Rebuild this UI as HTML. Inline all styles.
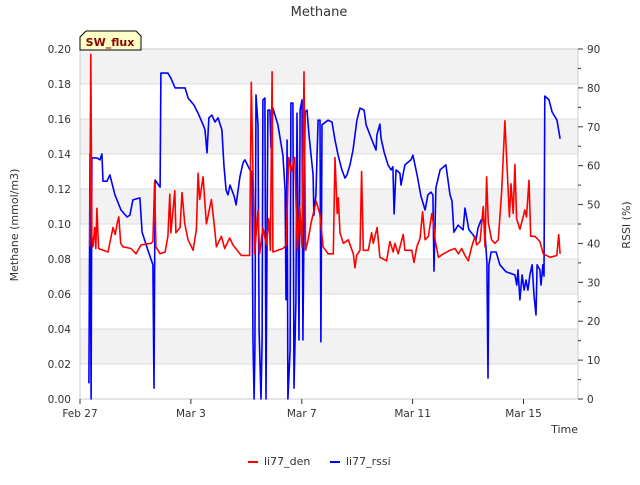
<!DOCTYPE html>
<html><head><meta charset="utf-8"><style>
body{margin:0;background:#fff;font-family:"Liberation Sans","DejaVu Sans",sans-serif}
svg text{font-family:"DejaVu Sans","Liberation Sans",sans-serif}
</style></head><body>
<svg id="c" width="640" height="480" viewBox="0 0 640 480" xmlns="http://www.w3.org/2000/svg">
<text x="319" y="16" text-anchor="middle" font-size="13" fill="#333">Methane</text>
<g id="bands"></g><g id="axes"></g><g id="series"></g>
<text transform="translate(18,225) rotate(-90)" text-anchor="middle" font-size="11" fill="#333">Methane (mmol/m3)</text>
<text transform="translate(630,225) rotate(-90)" text-anchor="middle" font-size="11" fill="#333">RSSI (%)</text>
<text x="578" y="433" text-anchor="end" font-size="11" fill="#333">Time</text>
<g><line x1="248" y1="462" x2="258" y2="462" stroke="#f00" stroke-width="2"/><text x="264" y="465" font-size="11" fill="#333">li77_den</text></g>
<g><line x1="330" y1="462" x2="340" y2="462" stroke="#00f" stroke-width="2"/><text x="346" y="465" font-size="11" fill="#333">li77_rssi</text></g>
<g><path d="M86,31 H136 L141,36 V50 H80 V37 Z" fill="#ffffc8" stroke="#000" stroke-width="1"/><text x="110" y="46" text-anchor="middle" font-size="11" font-weight="bold" fill="#8b0000">SW_flux</text></g>
</svg>
<script>
const xTickLabels=["Feb 27","Mar 3","Mar 7","Mar 11","Mar 15"];
const xTickDays=[0,4,8,12,16];
const yTicks=[0,0.02,0.04,0.06,0.08,0.10,0.12,0.14,0.16,0.18,0.20];
const y2Ticks=[0,10,20,30,40,50,60,70,80,90];
const denDays=[0.35,0.39,0.43,0.47,0.53,0.57,0.61,0.67,1.01,1.19,1.27,1.35,1.40,1.47,1.55,1.84,2.02,2.20,2.56,2.63,2.69,2.74,2.89,3.07,3.17,3.24,3.28,3.42,3.46,3.61,3.68,3.78,3.90,4.08,4.20,4.26,4.32,4.44,4.56,4.74,4.86,4.92,5.10,5.22,5.40,5.52,5.82,6.12,6.18,6.24,6.30,6.42,6.48,6.60,6.72,6.81,6.87,6.93,6.96,7.14,7.32,7.44,7.53,7.62,7.75,7.84,7.93,8.01,8.08,8.14,8.23,8.34,8.52,8.65,8.77,8.95,9.14,9.20,9.28,9.32,9.38,9.50,9.68,9.86,9.92,9.98,10.10,10.16,10.22,10.40,10.52,10.58,10.72,10.82,11.06,11.18,11.30,11.36,11.48,11.66,11.72,11.97,12.05,12.15,12.27,12.36,12.45,12.57,12.69,12.77,12.81,12.93,13.11,13.35,13.53,13.65,13.77,13.89,14.01,14.13,14.25,14.31,14.43,14.55,14.61,14.67,14.73,14.85,14.97,15.09,15.21,15.33,15.39,15.49,15.55,15.63,15.69,15.75,15.87,16.05,16.11,16.20,16.26,16.41,16.59,16.71,16.96,17.20,17.27,17.32];
const denValues=[0.087,0.197,0.093,0.087,0.098,0.086,0.109,0.086,0.084,0.098,0.094,0.101,0.104,0.089,0.087,0.086,0.083,0.088,0.089,0.090,0.124,0.087,0.083,0.084,0.093,0.117,0.095,0.119,0.095,0.098,0.118,0.100,0.091,0.085,0.097,0.129,0.114,0.127,0.100,0.114,0.097,0.087,0.093,0.086,0.092,0.088,0.082,0.082,0.181,0.129,0.083,0.108,0.083,0.098,0.088,0.103,0.085,0.187,0.084,0.085,0.086,0.088,0.138,0.130,0.138,0.085,0.110,0.087,0.187,0.085,0.091,0.101,0.113,0.106,0.087,0.083,0.083,0.138,0.106,0.115,0.095,0.089,0.091,0.083,0.075,0.082,0.085,0.130,0.085,0.085,0.095,0.089,0.098,0.081,0.079,0.090,0.084,0.089,0.083,0.094,0.085,0.085,0.078,0.087,0.092,0.107,0.091,0.093,0.106,0.098,0.091,0.081,0.083,0.085,0.086,0.083,0.086,0.082,0.079,0.087,0.093,0.088,0.090,0.110,0.087,0.127,0.101,0.091,0.089,0.091,0.118,0.159,0.138,0.104,0.123,0.106,0.134,0.103,0.097,0.108,0.104,0.125,0.093,0.093,0.090,0.083,0.081,0.082,0.094,0.083];
const rssiDays=[0.32,0.36,0.40,0.43,0.61,0.72,0.79,0.83,0.97,1.08,1.26,1.48,1.70,1.80,1.91,2.16,2.24,2.45,2.63,2.67,2.71,2.89,2.92,3.17,3.28,3.43,3.79,3.90,4.11,4.26,4.44,4.51,4.58,4.65,4.76,4.87,4.98,5.12,5.19,5.27,5.34,5.41,5.56,5.63,5.77,5.88,5.95,6.13,6.20,6.24,6.28,6.31,6.35,6.42,6.46,6.53,6.57,6.60,6.67,6.71,6.78,6.85,6.89,6.96,7.14,7.32,7.40,7.43,7.47,7.50,7.58,7.61,7.68,7.72,7.79,7.83,7.90,7.94,8.01,8.04,8.12,8.19,8.26,8.41,8.44,8.51,8.59,8.66,8.69,8.73,8.95,9.09,9.20,9.31,9.45,9.56,9.63,9.74,9.85,9.99,10.10,10.25,10.32,10.53,10.68,10.71,10.82,10.86,10.97,11.11,11.22,11.29,11.33,11.40,11.54,11.58,11.72,11.94,12.01,12.16,12.30,12.45,12.55,12.66,12.73,12.77,12.84,12.99,13.20,13.35,13.42,13.49,13.64,13.82,13.89,14.03,14.18,14.29,14.36,14.47,14.57,14.61,14.68,14.72,14.75,14.83,15.01,15.15,15.37,15.62,15.69,15.76,15.80,15.87,15.95,16.02,16.09,16.16,16.23,16.31,16.38,16.45,16.49,16.59,16.63,16.70,16.74,16.77,16.92,17.03,17.21,17.32];
const rssiValues=[4,63,0,62,62,61.5,63,56,56,57.6,52.5,48.6,46.8,47.3,51.2,51.7,42.9,38.3,34.5,2.8,56.3,54.5,83.8,83.8,82.5,80,80,77.4,75.6,73.5,70.5,69.2,63.3,72.3,73,71.2,72.3,69.2,60.2,53.7,52.5,55,52.2,49.9,57.1,60.7,61.5,58.9,58.4,14.7,0,12.6,78.2,70.5,17.7,0,15.2,76.9,77.4,0,74.3,74.3,64.5,74.8,70.5,62.7,53.7,25.5,66.6,0,12.6,76.1,76.1,2.8,25,73.5,15.2,74.3,76.9,15.2,73.8,74.3,67.9,57.6,47.3,52.5,71.7,71.7,14.7,70.5,71.7,71.2,66.6,62.7,58.9,56.8,57.6,60.2,64,71.7,74.8,74.3,70.5,66.6,64,67.9,70.7,67.1,63.5,60.2,58.9,59.7,47.6,58.9,58.1,55,60.2,61.5,62.7,57.6,52.2,48.6,52.5,53.2,52.5,32.9,54.3,58.9,60.2,52.5,50.9,42.9,44.7,43.5,49.1,43.5,42.2,40.9,44,46,46,42.7,35.2,5.4,34.5,37.8,37.8,34.5,32.7,32.1,31.9,29.3,33.2,25.5,31.9,28,30.6,28,31.9,34.5,26.7,21.6,34.5,33.2,29.3,34.5,31.6,77.9,76.9,73.8,71.7,66.9];

const NS="http://www.w3.org/2000/svg";
const L=80,R=578,T=49,B=399;
const xScale=d=>L+d*(523.5-80)/16;
const yScale=v=>B-v/0.2*(B-T);
const y2Scale=v=>B-v/90*(B-T);
function mk(tag,attrs,parent){const e=document.createElementNS(NS,tag);for(const k in attrs)e.setAttribute(k,attrs[k]);parent.appendChild(e);return e;}
const bands=document.getElementById('bands'),axes=document.getElementById('axes'),series=document.getElementById('series');
const bg=mk('rect',{x:L,y:T,width:R-L,height:B-T,fill:'#fff'},bands);


for(let i=0;i<yTicks.length-1;i++){
  if(i%2===1){const r=mk('rect',{x:L,y:yScale(yTicks[i+1]),width:R-L,height:yScale(yTicks[i])-yScale(yTicks[i+1]),fill:'#f2f2f2'},bands);
  
  }
}
yTicks.forEach(v=>{
  const y=yScale(v);
  const g=mk('line',{x1:L,y1:y,x2:R,y2:y,stroke:'#dcdcdc','stroke-width':1},bands);
  
  
  const t=mk('text',{x:71,y:y+4,'text-anchor':'end','font-size':10.5,fill:'#333'},axes);
  t.textContent=v.toFixed(2);
  
  
});
mk('rect',{x:L,y:T,width:R-L,height:B-T,fill:'none',stroke:'#ccc'},axes);
y2Ticks.forEach(v=>{
  const y=y2Scale(v);
  mk('line',{x1:R,y1:y,x2:R+5,y2:y,stroke:'#333'},axes);
  if(v<90)mk('line',{x1:R,y1:y2Scale(v+5),x2:R+3,y2:y2Scale(v+5),stroke:'#333'},axes);
  const t=mk('text',{x:587,y:y+4,'font-size':10.5,fill:'#333'},axes);
  t.textContent=v;
  
  
});
xTickDays.forEach((d,i)=>{
  const x=xScale(d);
  mk('line',{x1:x,y1:B,x2:x,y2:B+5,stroke:'#333'},axes);
  const t=mk('text',{x:x,y:417,'text-anchor':'middle','font-size':10.5,fill:'#333'},axes);
  t.textContent=xTickLabels[i];
  
  
});
function line(days,vals,sc,color,name){
  const p=days.map((d,i)=>xScale(d).toFixed(1)+','+sc(vals[i]).toFixed(1)).join(' ');
  const e=mk('polyline',{points:p,fill:'none',stroke:color,'stroke-width':1.6,'stroke-linejoin':'round'},series);
  
  
}
line(rssiDays,rssiValues,y2Scale,'#0000ff','li77-rssi-line');
line(denDays,denValues,yScale,'#ff0000','li77-den-line');
</script>
</body></html>
